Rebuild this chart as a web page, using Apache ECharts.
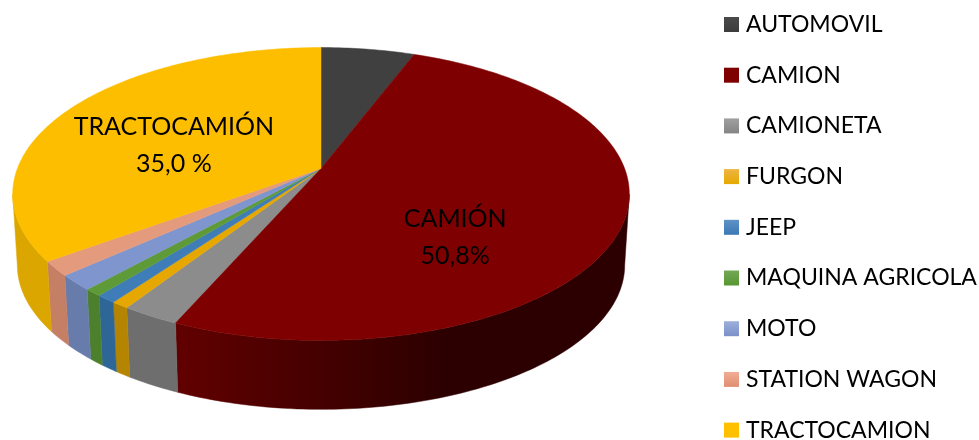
<!DOCTYPE html>
<html><head><meta charset="utf-8">
<style>html,body{margin:0;padding:0;background:#fff}#c{width:979px;height:440px}</style>
<script src="https://cdn.jsdelivr.net/npm/echarts@6/dist/echarts.min.js"></script>
</head><body><div id="c"></div>
<script>
const categories = ['AUTOMOVIL','CAMION','CAMIONETA','FURGON','JEEP','MAQUINA AGRICOLA','MOTO','STATION WAGON','TRACTOCAMION'];
const values = [5.8, 50.8, 2.6, 0.8, 0.9, 0.8, 1.7, 1.6, 35.0];
const sliceLabels = [null, 'CAMIÓN\n50,8%', null, null, null, null, null, null, 'TRACTOCAMIÓN\n35,0 %'];
const labelOffsets = [null, [-11, 41], null, null, null, null, null, null, [-17, 8]];
const topColors = ['#404040','#7F0000','#8C8C8C','#E6A800','#3F7DB8','#5E9A38','#7F95CE','#E49A7C','#FDBE00'];
const legendLight = ['#4A4A4A','#7F0000','#A0A0A0','#EDB544','#5F92C4','#74A858','#9EAFDD','#F0AE94','#FFC000'];
const legendDark = ['#3C3C3C','#7F0000','#848484','#E6A800','#3A78B5','#56962F','#7A90C8','#E08E70','#FFC000'];
const sideLeft = ['#303030','#600000','#6E6E6E','#B58400','#2E6697','#4C802D','#687CAC','#C47F64','#DCA600'];
const sideRight = ['#303030','#2C0000','#606060','#A87C00','#2A5F8E','#467828','#6073A2','#BA7659','#E0AA00'];

// projection of the pie disc
const CX = 321, CY = 168.5, K = 0.174, A = 142, B = 303.6, DY = 71.5, S = 0.985;
const SIDE_FROM = 27.8, SIDE_TO = 72.2; // part of the rim turned to the viewer, in percent of the turn
function project(pct, lower, r) {
  const t = pct / 100 * 2 * Math.PI, rr = r == null ? 1 : r;
  const u = rr * Math.sin(t), v = -rr * Math.cos(t), d = 1 - K * v, s = lower ? S : 1;
  return [CX + s * B * u / d, CY + (lower ? DY : 0) + s * A * v / d];
}
function arc(a, b, lower) {
  const n = Math.max(2, Math.ceil((b - a) * 3.6)), pts = [];
  for (let i = 0; i <= n; i++) pts.push(project(a + (b - a) * i / n, lower));
  return pts;
}
const spans = []; let cum = 0;
values.forEach(v => { spans.push([cum, cum + v]); cum += v; });

const series = [{
  type: 'custom', name: 'side', coordinateSystem: 'none', z: 2, silent: true, animation: false,
  data: spans.map((s, i) => [s[0], s[1], i]),
  renderItem(params, api) {
    const a = Math.max(api.value(0), SIDE_FROM), b = Math.min(api.value(1), SIDE_TO), i = api.value(2);
    if (b <= a) return null;
    const pts = arc(a, b, false).concat(arc(a, b, true).reverse());
    const fill = new echarts.graphic.LinearGradient(40, 0, 620, 0,
      [{offset: 0, color: sideLeft[i]}, {offset: 0.25, color: sideLeft[i]}, {offset: 0.7, color: sideRight[i]}, {offset: 1, color: sideRight[i]}], true);
    return {type: 'polygon', shape: {points: pts}, style: {fill, stroke: fill, lineWidth: 0.5}};
  }
}];
categories.forEach((name, i) => {
  series.push({
    type: 'custom', name, coordinateSystem: 'none', z: sliceLabels[i] ? 4 : 3, silent: true, animation: false,
    itemStyle: {color: new echarts.graphic.LinearGradient(0, 0, 0, 1, [{offset: 0, color: legendLight[i]}, {offset: 1, color: legendDark[i]}])},
    data: [[spans[i][0], spans[i][1]]],
    renderItem(params, api) {
      const a = api.value(0), b = api.value(1);
      const pts = [[CX, CY]].concat(arc(a, b, false));
      const children = [{type: 'polygon', shape: {points: pts}, style: {fill: topColors[i], stroke: topColors[i], lineWidth: 0.5}}];
      if (sliceLabels[i]) {
        const p = project((a + b) / 2, false, 0.5);
        children.push({type: 'text', z2: 10, style: {
          x: p[0] + labelOffsets[i][0], y: p[1] + labelOffsets[i][1], text: sliceLabels[i],
          fill: '#000', font: '25px Lato, "Open Sans", sans-serif', align: 'center', verticalAlign: 'middle', lineHeight: 37
        }});
      }
      return {type: 'group', children};
    }
  });
});

const chart = echarts.init(document.getElementById('c'), null, {renderer: 'canvas'});
chart.setOption({
  animation: false,
  backgroundColor: '#fff',
  legend: {
    data: categories, orient: 'vertical', left: 719, top: 8, height: 600, icon: 'rect',
    itemWidth: 15, itemHeight: 15, itemGap: 27.7, selectedMode: false,
    textStyle: {color: '#000', fontSize: 23, fontFamily: 'Lato, "Open Sans", sans-serif', padding: [0, 0, 0, 2], lineHeight: 20}
  },
  series
});
</script></body></html>
